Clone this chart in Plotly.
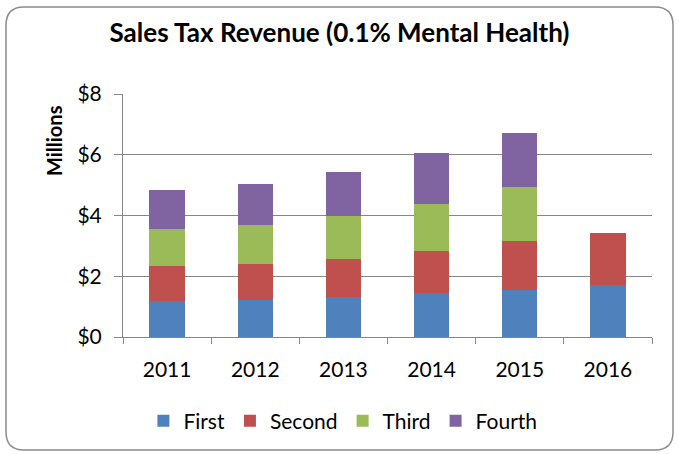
import plotly.graph_objects as go

years = ["2011", "2012", "2013", "2014", "2015", "2016"]
first = [1.17, 1.23, 1.31, 1.46, 1.56, 1.71]
second = [1.17, 1.18, 1.26, 1.37, 1.59, 1.73]
third = [1.21, 1.29, 1.41, 1.54, 1.78, None]
fourth = [1.28, 1.34, 1.45, 1.68, 1.80, None]
series_names = ["First", "Second", "Third", "Fourth"]
colors = ["#4F81BD", "#C0504D", "#9BBB59", "#8064A2"]
y_ticks = [0, 2, 4, 6, 8]
y_tick_labels = ["$0", "$2", "$4", "$6", "$8"]

W, H = 679, 454
L, R, T, B = 123, 652, 94, 337
FONT = "Lato, 'Open Sans', sans-serif"

fig = go.Figure()
for name, vals, col in zip(series_names, [first, second, third, fourth], colors):
    fig.add_trace(go.Bar(x=years, y=vals, name=name, marker=dict(color=col, line=dict(width=0))))

def px(x):
    return (x - L) / (R - L)

def py(y):
    return (B - y) / (B - T)

bl, br, bt, bb, rad = 6, 673, 7, 450, 18
path = (
    f"M {px(bl+rad)},{py(bt)} L {px(br-rad)},{py(bt)} Q {px(br)},{py(bt)} {px(br)},{py(bt+rad)} "
    f"L {px(br)},{py(bb-rad)} Q {px(br)},{py(bb)} {px(br-rad)},{py(bb)} "
    f"L {px(bl+rad)},{py(bb)} Q {px(bl)},{py(bb)} {px(bl)},{py(bb-rad)} "
    f"L {px(bl)},{py(bt+rad)} Q {px(bl)},{py(bt)} {px(bl+rad)},{py(bt)} Z"
)

fig.update_layout(
    width=W, height=H,
    barmode="stack", bargap=0.6,
    paper_bgcolor="white", plot_bgcolor="white",
    margin=dict(l=L, r=W - R, t=T, b=H - B, pad=0),
    font=dict(family=FONT, size=21, color="black"),
    title=dict(text="<b>Sales Tax Revenue (0.1% Mental Health)</b>", x=0.5, xref="container",
               xanchor="center", y=1 - 33 / H, yref="container", yanchor="middle",
               font=dict(family=FONT, size=26, color="black")),
    showlegend=True,
    legend=dict(orientation="h", x=0.505, xref="container", xanchor="center",
                y=1 - 421 / H, yref="container", yanchor="middle",
                font=dict(family=FONT, size=21), traceorder="normal",
                itemwidth=30, bgcolor="rgba(0,0,0,0)"),
    shapes=[dict(type="path", xref="paper", yref="paper", path=path,
                 line=dict(color="#8C8C8C", width=1.5), fillcolor="rgba(0,0,0,0)", layer="below")],
    annotations=[dict(text="<b>Millions</b>", xref="paper", yref="paper", x=px(55), y=py(141),
                      xanchor="center", yanchor="middle", xshift=-1, textangle=-90, showarrow=False,
                      font=dict(family=FONT, size=20, color="black"))],
)
fig.update_xaxes(type="category", showgrid=False, showline=True, linecolor="#868686", linewidth=1,
                 ticks="outside", tickson="boundaries", ticklen=6, tickcolor="#868686",
                 tickfont=dict(family=FONT, size=21), ticklabelstandoff=14)
fig.update_yaxes(range=[0, 8], tickvals=y_ticks, ticktext=y_tick_labels, showgrid=True,
                 gridcolor="#868686", gridwidth=1, showline=True, linecolor="#868686", linewidth=1,
                 ticks="outside", ticklen=8, tickcolor="#868686", zeroline=False,
                 tickfont=dict(family=FONT, size=21), ticklabelstandoff=8)

fig.write_html("out.html", config={"displayModeBar": False},
               post_script="document.body.style.margin='0';")
